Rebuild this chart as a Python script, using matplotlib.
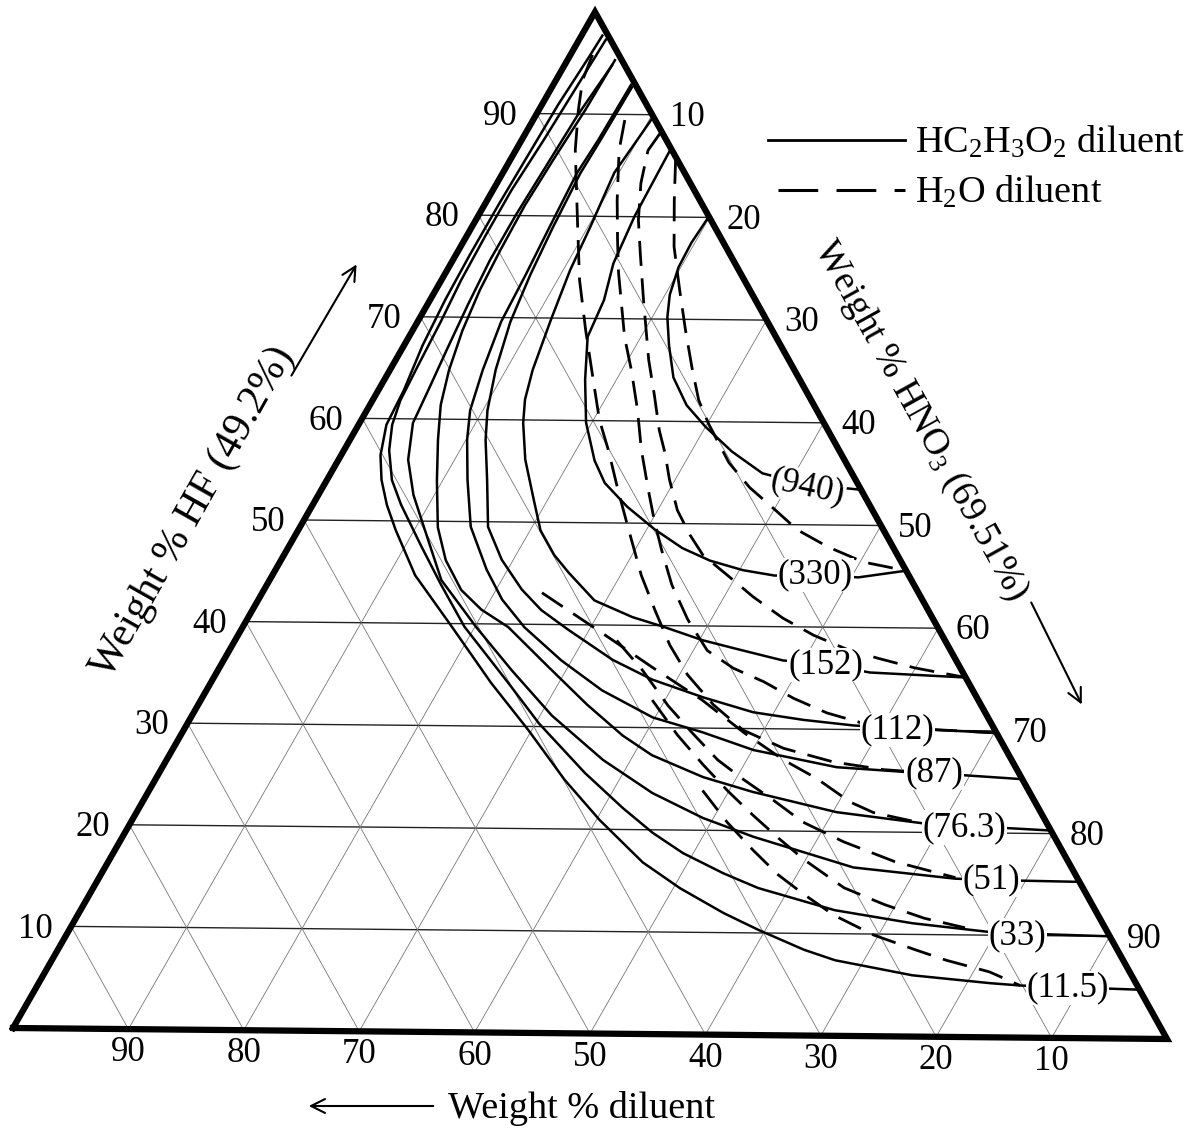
import numpy as np
import matplotlib
matplotlib.use("Agg")
import matplotlib.pyplot as plt

plt.rcParams['font.family'] = ['Liberation Serif', 'DejaVu Serif']
plt.rcParams['mathtext.fontset'] = 'custom'
plt.rcParams['mathtext.rm'] = 'Liberation Serif'
plt.rcParams['mathtext.it'] = 'Liberation Serif:italic'

# ---- data: (wt% HF, wt% HNO3) pairs, diluent = 100 - HF - HNO3 ----
# HC2H3O2 diluent (solid)
s940 = [(79.9, 19.9), (77.5, 19.7), (75.1, 19.8), (72.4, 20.4), (70.2, 21.3), (67.5, 22.8),
        (64.3, 24.8), (61.6, 27.3), (59.5, 30.0), (57.1, 33.5), (55.0, 37.2), (54.0, 41.2),
        (53.5, 46.3)]
s330 = [(86.4, 13.3), (80.0, 13.5), (75.4, 14.0), (71.8, 15.0), (68.2, 15.4), (64.0, 17.3),
        (59.8, 19.5), (56.1, 22.1), (53.9, 24.1), (51.6, 27.2), (49.4, 30.7), (47.6, 34.0),
        (46.4, 37.0), (45.5, 40.3), (45.0, 43.3), (45.1, 46.8), (44.9, 50.6), (45.6, 54.4)]
s152 = [(89.8, 10.2), (87.0, 9.9), (84.3, 9.6), (79.0, 10.2), (74.7, 10.6), (69.8, 11.4),
        (64.9, 12.3), (62.0, 13.1), (59.7, 14.1), (56.1, 16.1), (52.2, 18.8), (49.2, 20.9),
        (46.8, 23.3), (45.1, 25.4), (42.4, 29.0), (40.8, 33.1), (39.9, 36.2), (38.6, 40.3),
        (37.7, 44.0), (36.7, 48.2), (36.4, 51.9), (35.6, 56.3), (35.2, 64.8)]
s112 = [(92.7, 6.9), (87.5, 6.8), (84.2, 6.7), (78.9, 7.0), (74.2, 7.4), (69.6, 8.0),
        (64.9, 9.1), (60.9, 10.4), (58.0, 11.7), (54.1, 13.8), (49.5, 16.2), (46.3, 19.0),
        (43.4, 22.2), (41.4, 24.9), (39.5, 28.2), (36.6, 33.5), (34.7, 37.9), (33.0, 43.2),
        (31.6, 48.2), (30.9, 52.9), (30.4, 57.5), (30.2, 61.4), (29.8, 70.2)]
s87 = [(92.9, 6.7), (87.5, 6.6), (84.2, 6.4), (78.9, 6.7), (74.2, 7.0), (69.6, 7.2),
       (64.85, 8.0), (60.9, 8.9), (58.0, 10.1), (54.1, 12.1), (49.5, 14.7), (45.3, 18.2),
       (42.4, 21.0), (39.7, 24.3), (36.5, 29.1), (33.6, 34.1), (31.0, 39.8), (29.6, 44.8),
       (27.9, 50.1), (26.3, 58.1), (25.9, 64.2), (25.8, 66.8), (25.3, 74.7)]
s76 = [(95.3, 4.1), (90.4, 4.0), (85.5, 3.7), (81.0, 3.5), (76.6, 3.6), (72.7, 3.8),
       (68.7, 4.3), (64.8, 5.1), (61.4, 6.1), (57.95, 7.6), (54.0, 9.5), (49.4, 11.9),
       (46.2, 14.2), (43.3, 17.0), (41.4, 19.7), (39.7, 22.9), (36.0, 28.1), (32.2, 33.5),
       (29.2, 38.1), (27.3, 41.6), (25.2, 47.1), (23.8, 52.1), (21.9, 60.3), (20.9, 68.2),
       (20.7, 71.8), (20.3, 79.7)]
s51 = [(94.8, 4.1), (89.9, 3.6), (85.0, 3.4), (80.05, 3.2), (75.6, 3.2), (71.2, 3.5),
       (66.8, 3.9), (62.85, 4.3), (59.6, 4.6), (56.0, 6.0), (52.55, 8.2), (49.4, 10.7),
       (44.25, 14.8), (39.7, 20.1), (35.5, 25.3), (31.1, 31.0), (26.8, 37.6), (23.6, 43.5),
       (21.2, 49.1), (19.4, 54.4), (16.5, 64.5), (15.5, 73.8), (15.4, 77.0), (15.3, 84.7)]
s33 = [(97.3, 2.3), (92.3, 2.1), (87.4, 1.9), (82.5, 1.6), (78.1, 1.6), (73.6, 1.7),
       (69.5, 2.0), (65.3, 2.2), (61.8, 2.4), (59.4, 2.9), (56.9, 3.9), (54.0, 5.6),
       (51.6, 7.6), (47.65, 11.3), (43.8, 15.0), (39.7, 19.1), (34.2, 25.7), (30.3, 30.3),
       (25.5, 36.7), (22.1, 41.7), (19.7, 45.5), (17.75, 49.1), (15.8, 53.6), (14.4, 57.3),
       (12.3, 65.0), (11.1, 72.3), (10.3, 79.5), (10.2, 81.9), (10.0, 90.0)]
s11 = [(97.7, 1.8), (95.5, 1.7), (90.9, 1.4), (85.9, 1.3), (81.0, 1.2), (76.1, 1.2),
       (71.7, 1.3), (67.2, 1.6), (62.8, 2.2), (59.4, 2.4), (56.4, 3.4), (54.0, 4.7),
       (51.55, 6.4), (49.1, 8.4), (44.7, 12.3), (39.7, 18.0), (34.2, 24.2), (29.65, 29.7),
       (24.8, 35.3), (20.9, 40.3), (16.8, 46.1), (14.3, 50.6), (11.9, 55.6), (10.3, 59.4),
       (8.4, 64.3), (7.4, 67.5), (6.0, 74.9), (5.3, 82.0), (5.1, 84.7), (4.8, 95.2)]

# H2O diluent (dashed)
d330 = [(85.7, 14.2), (81.7, 16.1), (77.1, 18.4), (72.9, 21.0), (68.95, 23.5), (65.3, 25.9),
        (62.1, 28.1), (59.7, 30.2), (56.0, 33.8), (53.6, 36.8), (51.7, 39.7), (49.5, 43.0),
        (47.85, 46.5), (46.4, 50.3), (45.6, 54.4)]
d152 = [(88.2, 11.6), (86.5, 11.4), (83.3, 12.4), (79.7, 14.0), (76.45, 15.8), (71.85, 18.4),
        (66.0, 21.8), (62.6, 24.0), (59.1, 26.2), (56.9, 27.8), (54.3, 29.5), (51.3, 31.7),
        (48.9, 34.0), (46.95, 36.1), (45.0, 39.2), (42.9, 42.5), (40.85, 46.1), (39.2, 49.6),
        (37.8, 53.3), (37.0, 56.3), (36.1, 59.9), (35.2, 64.8)]
d112 = [(89.45, 7.9), (86.5, 8.9), (81.6, 11.2), (77.7, 13.2), (74.5, 14.9), (68.2, 18.6),
        (65.0, 20.8), (61.1, 23.3), (57.2, 25.6), (53.25, 28.2), (50.3, 30.2), (47.4, 32.3),
        (44.0, 34.9), (40.6, 38.0), (37.6, 41.2), (35.9, 44.3), (34.6, 47.6), (33.0, 51.0),
        (31.6, 54.6), (30.6, 58.3), (30.2, 62.0), (29.8, 70.2)]
d87 = [(95.8, 1.9), (93.3, 2.3), (90.4, 3.4), (86.5, 5.1), (78.6, 9.3), (73.75, 11.9),
       (68.85, 14.9), (64.0, 18.0), (60.1, 20.5), (57.1, 22.8), (53.2, 25.6), (49.3, 28.5),
       (44.9, 31.8), (41.5, 34.7), (38.1, 37.7), (35.2, 40.7), (32.3, 44.4), (29.85, 48.2),
       (28.1, 52.6), (26.8, 57.6), (26.1, 62.3), (25.8, 66.8)]
d76 = [(43.1, 24.1), (39.2, 31.3), (35.9, 37.3), (32.75, 43.2), (29.6, 48.4), (26.95, 53.2),
       (25.2, 56.9), (22.9, 61.0), (21.9, 63.5), (20.9, 68.2)]
d51 = [(38.5, 32.9), (35.6, 36.6), (32.2, 40.5), (29.5, 44.0), (26.9, 47.5), (25.0, 50.7),
       (23.0, 54.3), (20.9, 57.9), (19.0, 62.4), (17.1, 67.8), (15.6, 73.8)]
d33 = [(32.7, 38.9), (29.3, 42.8), (26.4, 46.5), (23.8, 50.0), (21.5, 53.3), (19.3, 56.6),
       (17.2, 59.9), (14.5, 64.7), (12.9, 69.0), (11.6, 73.1), (10.7, 77.1)]
d11 = [(23.9, 47.7), (20.8, 51.4), (18.1, 55.0), (15.7, 58.4), (13.8, 61.6), (11.8, 65.2),
       (9.9, 69.6), (8.5, 73.9), (7.5, 77.1), (6.4, 81.4), (5.1, 84.7)]

solid_curves = [s940, s330, s152, s112, s87, s76, s51, s33, s11]
dashed_curves = [d330, d152, d112, d87, d76, d51, d33, d11]

rate_labels = ['(940)', '(330)', '(152)', '(112)', '(87)', '(76.3)', '(51)', '(33)', '(11.5)']
rate_label_pos = [(53.7, 41.8), (45.1, 46.8), (36.3, 52.1), (30.0, 61.5), (25.8, 66.8),
                  (20.5, 72.1), (15.4, 77.0), (10.0, 82.0), (4.9, 88.9)]

ticks = [10, 20, 30, 40, 50, 60, 70, 80, 90]

# ---- page geometry of the triangle corners (diluent, HNO3, HF) ----
L = np.array([13.0, 1028.0])
R = np.array([1167.0, 1039.0])
T = np.array([595.0, 12.0])


def tern(hf, hno3):
    a = np.asarray(hf, float) / 100.0
    b = np.asarray(hno3, float) / 100.0
    x = L[0] + b * (R[0] - L[0]) + a * (T[0] - L[0])
    y = L[1] + b * (R[1] - L[1]) + a * (T[1] - L[1])
    return x, y


fig = plt.figure(figsize=(12.03, 11.40), dpi=100)
ax = fig.add_axes([0, 0, 1, 1])
ax.set_xlim(0, 1203)
ax.set_ylim(1140, 0)
ax.axis('off')

# grid
for v in ticks:
    x, y = tern([v, v], [0, 100 - v])
    ax.plot(x, y, color='#222222', lw=1.0, zorder=1)
    x, y = tern([0, 100 - v], [v, v])
    ax.plot(x, y, color='#777777', lw=0.6, zorder=1)
    x, y = tern([0, 100 - v], [100 - v, 0])
    ax.plot(x, y, color='#777777', lw=0.6, zorder=1)

# border
x, y = tern([0, 0, 100, 0], [0, 100, 0, 0])
ax.plot(x, y, color='black', lw=4.5, solid_joinstyle='miter', zorder=6)

# curves
for c in solid_curves:
    hf, hn = zip(*c)
    x, y = tern(hf, hn)
    ax.plot(x, y, color='black', lw=1.8, zorder=3)
for c in dashed_curves:
    hf, hn = zip(*c)
    x, y = tern(hf, hn)
    ax.plot(x, y, color='black', lw=2.0, dashes=(9, 4.5), dash_capstyle='butt', zorder=3)

for lab, (hf, hn) in zip(rate_labels, rate_label_pos):
    x, y = tern(hf, hn)
    rot = -12 if lab == '(940)' else 0
    ax.text(x, y, lab, fontsize=25, ha='center', va='center', rotation=rot, zorder=5,
            bbox=dict(boxstyle='square,pad=0.02', fc='white', ec='none'))

# tick labels
for v in ticks:
    x, y = tern(v, 0)
    ax.annotate(str(v), (x, y), xytext=(-26, -2), textcoords='offset points',
                ha='center', va='center', fontsize=25)
    x, y = tern(100 - v, v)
    ax.annotate(str(v), (x, y), xytext=(25, -2), textcoords='offset points',
                ha='center', va='center', fontsize=25)
    x, y = tern(0, 100 - v)
    ax.annotate(str(v), (x, y), xytext=(0, -17), textcoords='offset points',
                ha='center', va='center', fontsize=25)

# axis titles and arrows
ax.text(193, 512, 'Weight % HF (49.2%)', fontsize=30, rotation=60.5,
        ha='center', va='center', rotation_mode='anchor')
ax.annotate('', xy=(358, 262), xytext=(290, 378),
            arrowprops=dict(arrowstyle='->', lw=1.5, mutation_scale=25))
ax.text(920, 420, 'Weight % HNO$_3$ (69.51%)', fontsize=27, rotation=-61,
        ha='center', va='center', rotation_mode='anchor')
ax.annotate('', xy=(1083, 707), xytext=(1030, 600),
            arrowprops=dict(arrowstyle='->', lw=1.5, mutation_scale=25))
ax.text(448, 1108, 'Weight % diluent', fontsize=27.5, ha='left', va='center')
ax.annotate('', xy=(306, 1106), xytext=(436, 1106),
            arrowprops=dict(arrowstyle='->', lw=1.5, mutation_scale=25))

# legend
ax.plot([768, 905], [140, 140], color='black', lw=2.0)
ax.text(915, 142, 'HC$_2$H$_3$O$_2$ diluent', fontsize=27.5, ha='left', va='center')
ax.plot([778, 905], [190, 190], color='black', lw=2.2, dashes=(13, 6))
ax.text(915, 192, 'H$_2$O diluent', fontsize=27.5, ha='left', va='center')

fig.savefig('out.png', dpi=100, facecolor='white')
